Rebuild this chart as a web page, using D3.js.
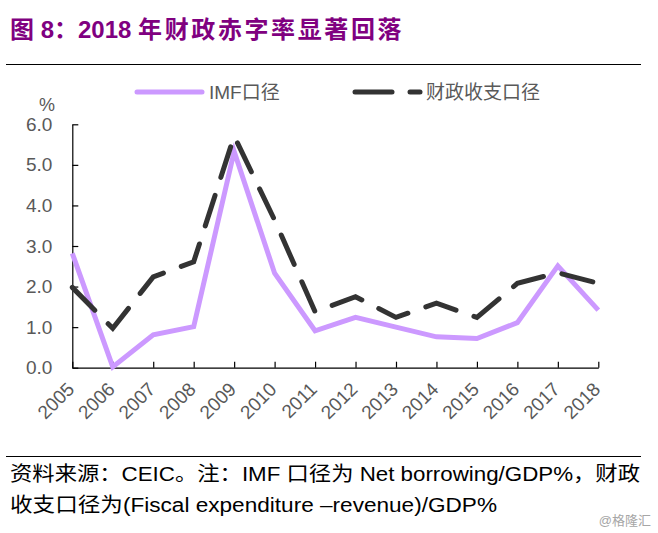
<!DOCTYPE html>
<html>
<head>
<meta charset="utf-8">
<script src="https://cdn.jsdelivr.net/npm/d3@7.9.0/dist/d3.min.js"></script>
<style>
  body { margin: 0; background: #fff; }
  svg { display: block; font-family: Arial, "Liberation Sans", "Noto Sans CJK SC", sans-serif; }
</style>
</head>
<body>
<div id="chart"></div>
<script>
const years = ['2005', '2006', '2007', '2008', '2009', '2010', '2011', '2012', '2013', '2014', '2015', '2016', '2017', '2018'];
const imfValues = [2.82, 0.02, 0.81, 1.01, 5.33, 2.33, 0.91, 1.24, 1.0, 0.76, 0.72, 1.11, 2.51, 1.42];
const fiscalValues = [1.98, 0.97, 2.24, 2.61, 5.71, 3.64, 1.38, 1.75, 1.24, 1.59, 1.24, 2.08, 2.34, 2.08];
const yTicks = [0, 1, 2, 3, 4, 5, 6];
const seriesNames = ['IMF口径', '财政收支口径'];

const width = 658;
const height = 533;
const plot = { left: 72.3, right: 598.3, top: 124.3, bottom: 367.7 };

const purple = '#cc99ff';
const dark = '#333333';
const textGrey = '#595959';

const svg = d3.select('#chart')
  .append('svg')
  .attr('width', width)
  .attr('height', height);

// title + rule
const title = svg.append('text')
  .attr('x', 10)
  .attr('y', 38)
  .attr('fill', '#800080')
  .attr('font-size', 24)
  .attr('font-weight', 'bold');
title.append('tspan').text('图 8：2018 ');
title.append('tspan').attr('letter-spacing', 2.6).text('年财政赤字率显著回落');

svg.append('line')
  .attr('x1', 6).attr('x2', 641)
  .attr('y1', 64.5).attr('y2', 64.5)
  .attr('stroke', '#000').attr('stroke-width', 1);

const xScale = d3.scalePoint()
  .domain(years)
  .range([plot.left, plot.right]);

const yScale = d3.scaleLinear()
  .domain([0, 6])
  .range([plot.bottom, plot.top]);

// y axis
const yAxis = svg.append('g')
  .attr('transform', `translate(${plot.left},0)`)
  .call(d3.axisLeft(yScale)
    .tickValues(yTicks)
    .tickFormat(d3.format('.1f'))
    .tickSizeInner(-6)
    .tickSizeOuter(0)
    .tickPadding(20));

// x axis
const xAxis = svg.append('g')
  .attr('transform', `translate(0,${plot.bottom})`)
  .call(d3.axisBottom(xScale)
    .tickSizeInner(-6)
    .tickSizeOuter(0)
    .tickPadding(8));

for (const ax of [xAxis, yAxis]) {
  ax.select('.domain').attr('stroke', '#000').attr('stroke-width', 1.2);
  ax.selectAll('.tick line').attr('stroke', '#000').attr('stroke-width', 1.2);
  ax.selectAll('.tick text')
    .attr('fill', textGrey)
    .attr('font-size', 19)
    .attr('font-family', 'Arial, "Liberation Sans", sans-serif');
}

xAxis.selectAll('.tick text')
  .attr('text-anchor', 'end')
  .attr('dy', '0.35em')
  .attr('y', 0)
  .attr('transform', 'translate(-2,18) rotate(-45)');

svg.append('text')
  .attr('x', 47)
  .attr('y', 111)
  .attr('text-anchor', 'middle')
  .attr('fill', textGrey)
  .attr('font-size', 18)
  .text('%');

// lines
const line = d3.line()
  .x((d, i) => xScale(years[i]))
  .y((d) => yScale(d));

svg.append('path')
  .datum(imfValues)
  .attr('d', line)
  .attr('fill', 'none')
  .attr('stroke', purple)
  .attr('stroke-width', 5)
  .attr('stroke-linejoin', 'miter');

svg.append('path')
  .datum(fiscalValues)
  .attr('d', line)
  .attr('fill', 'none')
  .attr('stroke', dark)
  .attr('stroke-width', 5)
  .attr('stroke-linecap', 'round')
  .attr('stroke-dasharray', '32,19');

// legend
const legend = svg.append('g').attr('font-size', 19).attr('fill', textGrey);

legend.append('line')
  .attr('x1', 137).attr('x2', 202)
  .attr('y1', 92).attr('y2', 92)
  .attr('stroke', purple).attr('stroke-width', 5).attr('stroke-linecap', 'round');
legend.append('text')
  .attr('x', 209).attr('y', 99)
  .text(seriesNames[0]);

legend.append('line')
  .attr('x1', 355).attr('x2', 392)
  .attr('y1', 92).attr('y2', 92)
  .attr('stroke', dark).attr('stroke-width', 5).attr('stroke-linecap', 'round');
legend.append('line')
  .attr('x1', 410).attr('x2', 420)
  .attr('y1', 92).attr('y2', 92)
  .attr('stroke', dark).attr('stroke-width', 5).attr('stroke-linecap', 'round');
legend.append('text')
  .attr('x', 426).attr('y', 99)
  .text(seriesNames[1]);

// footer
svg.append('line')
  .attr('x1', 6).attr('x2', 641)
  .attr('y1', 456.5).attr('y2', 456.5)
  .attr('stroke', '#000').attr('stroke-width', 1);

svg.append('text')
  .attr('x', 10).attr('y', 481)
  .attr('font-size', 20)
  .attr('fill', '#000')
  .attr('textLength', 630)
  .attr('lengthAdjust', 'spacingAndGlyphs')
  .text('资料来源：CEIC。注：IMF 口径为 Net borrowing/GDP%，财政');

svg.append('text')
  .attr('x', 10).attr('y', 512)
  .attr('font-size', 20)
  .attr('fill', '#000')
  .attr('textLength', 487)
  .attr('lengthAdjust', 'spacingAndGlyphs')
  .text('收支口径为(Fiscal expenditure –revenue)/GDP%');

svg.append('text')
  .attr('x', 651).attr('y', 525)
  .attr('text-anchor', 'end')
  .attr('font-size', 13)
  .attr('fill', '#a6a6a6')
  .text('@格隆汇');
</script>
</body>
</html>
